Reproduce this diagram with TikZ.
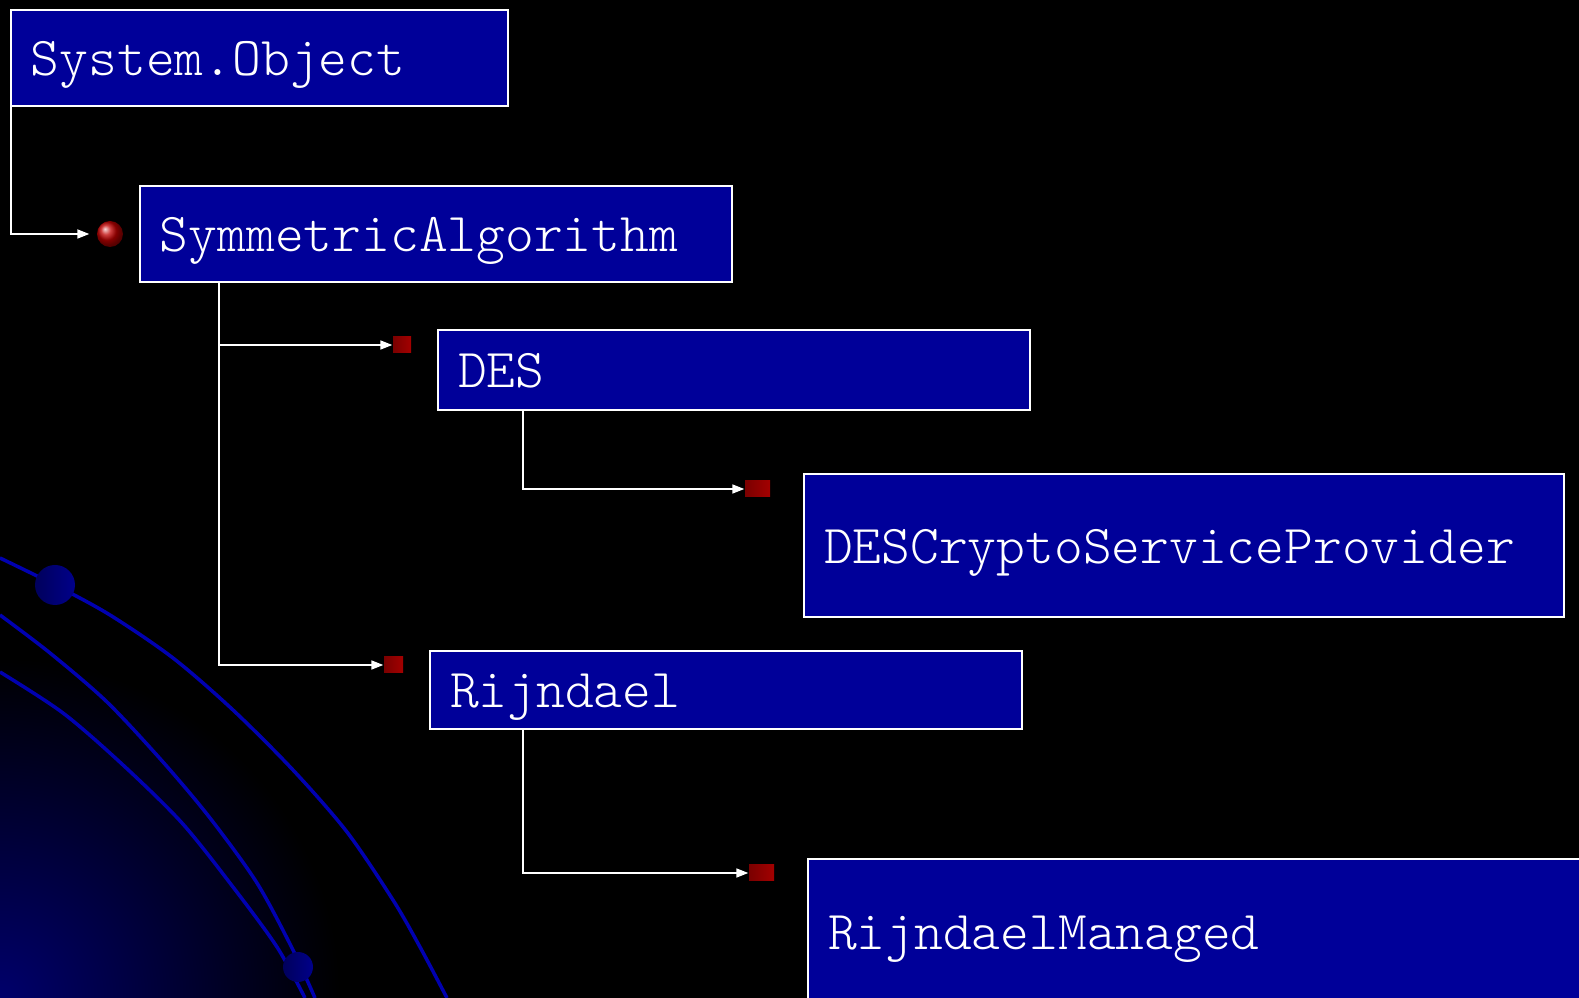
\documentclass[tikz,border=0pt]{standalone}
\usepackage{fontspec}
\newfontfamily\lightmono{Latin Modern Mono Light}
\usepackage{tikz}
\usetikzlibrary{arrows.meta, positioning, calc, shapes.geometric}
\definecolor{slideNavy}{HTML}{000099}
\definecolor{orbitBlue}{HTML}{0000B0}
\definecolor{markerRed}{HTML}{A30000}
\begin{document}
\begin{tikzpicture}[x=0.1mm, y=-0.1mm,
    classbox/.style={rectangle, draw=white, line width=0.2mm, fill=slideNavy, anchor=north west,
                     inner xsep=2mm, inner ysep=0pt, align=left, text=white,
                     text height=3.6mm, text depth=0pt,
                     font=\lightmono\fontsize{15.6}{18}\selectfont},
    marker/.style={rectangle, inner sep=0pt, minimum height=1.6mm,
                   left color=markerRed!75!black, right color=markerRed},
    rootball/.style={circle, inner sep=0pt, minimum size=2.6mm, shading=ball, ball color=red!75!black},
    conn/.style={-{Triangle[length=1.2mm, width=0.9mm]}, draw=white, line width=0.17mm},
    orbit/.style={draw=orbitBlue, line width=0.35mm},
    moon/.style={left color=slideNavy!60!black, right color=slideNavy!90!black},
]
\useasboundingbox (0,0) rectangle (1579,998);
\clip (0,0) rectangle (1579,998);
\fill[black] (0,0) rectangle (1579,998);

% Background glow and orbits
\shade[inner color=slideNavy!70!black, outer color=black] (0,998) circle (340);
\draw[orbit] plot[smooth] coordinates {(0,558) (55,585) (110,615) (173,658) (233,710) (293,770) (347,832) (393,900) (420,947) (447,998)};
\draw[orbit] plot[smooth] coordinates {(0,615) (50,653) (107,702) (163,762) (210,818) (257,883) (293,950) (315,998)};
\draw[orbit] plot[smooth] coordinates {(0,672) (63,713) (123,765) (182,823) (233,887) (277,947) (305,998)};
\shade[moon] (55,585) circle (20);
\shade[moon] (298,967) circle (15);

% Class boxes
\node[classbox, text width=45.7mm, minimum height=9.6mm] (obj) at (10,9) {System.Object};
\node[classbox, text width=55.2mm, minimum height=9.6mm] (sym) at (139,185) {SymmetricAlgorithm};
\node[classbox, text width=55.2mm, minimum height=8.0mm] (des) at (437,329) {DES};
\node[classbox, text width=72.0mm, minimum height=14.3mm] (dcsp) at (803,473) {DESCryptoServiceProvider};
\node[classbox, text width=55.2mm, minimum height=7.8mm] (rij) at (429,650) {Rijndael};
\node[classbox, text width=76.0mm, minimum height=14.6mm] (rman) at (807,858) {RijndaelManaged};

% Markers
\node[rootball] (objball) at (110,234) {};
\node[marker, minimum width=1.8mm] (dessq) at (402,345) {};
\node[marker, minimum width=1.9mm] (rijsq) at (393.5,665) {};
\node[marker, minimum width=2.5mm] (dcsq) at (757.5,489) {};
\node[marker, minimum width=2.5mm] (rmsq) at (761.5,873) {};

% Inheritance connectors
\draw[conn, shorten >=0.7mm] ([xshift=0.1mm]obj.south west) |- (objball.west);
\draw[conn] ($(sym.south west)+(80,0)$) |- (dessq.west);
\draw[conn] ($(sym.south west)+(80,0)$) |- (rijsq.west);
\draw[conn] ($(des.south west)+(86,0)$) |- (dcsq.west);
\draw[conn] ($(rij.south west)+(94,0)$) |- (rmsq.west);
\end{tikzpicture}
\end{document}
